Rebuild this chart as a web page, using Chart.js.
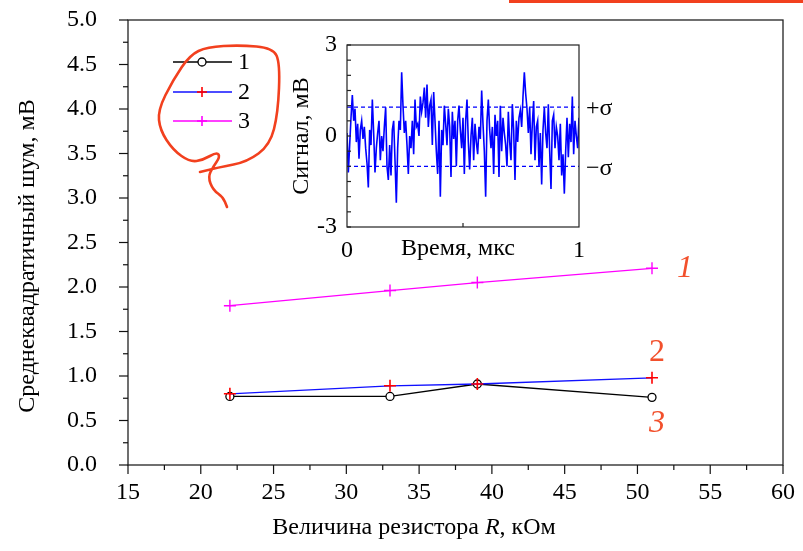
<!DOCTYPE html>
<html><head><meta charset="utf-8">
<script src="https://cdn.jsdelivr.net/npm/chart.js@4.4.1/dist/chart.umd.min.js"></script>
<style>
html,body{margin:0;padding:0;background:#fff;}
#wrap{position:relative;width:803px;height:551px;overflow:hidden;}
#main{position:absolute;left:0;top:0;}
#inset{position:absolute;left:270px;top:20px;}
</style></head><body>
<div id="wrap">
<canvas id="main" width="803" height="551"></canvas>
<canvas id="inset" width="360" height="250"></canvas>
</div>
<script>
// ---------- main chart data ----------
const resistance = [22, 33, 39, 51];            // кОм
const noiseSeries1 = [0.77, 0.77, 0.91, 0.76];  // black, circles
const noiseSeries2 = [0.80, 0.89, 0.91, 0.98];  // blue, red crosses
const noiseSeries3 = [1.79, 1.96, 2.05, 2.21];  // magenta, crosses
const seriesNames = ['1', '2', '3'];
const curveLabels = ['1', '2', '3'];
const xTicks = [15, 20, 25, 30, 35, 40, 45, 50, 55, 60];
const yTicks = [0, 0.5, 1.0, 1.5, 2.0, 2.5, 3.0, 3.5, 4.0, 4.5, 5.0];
const xTitle = ['Величина резистора ', 'R', ', кОм'];
const yTitle = 'Среднеквадратичный шум, мВ';

// ---------- inset data ----------
const signalValues = [
 0.1,-1.2,-0.3,0.6,1.35,0.5,0.9,-0.2,0.4,-0.75,
 0.2,0.5,-0.1,0.3,-0.4,-0.9,-1.7,0.2,-0.3,1.2,
 0.1,-1.2,-0.4,0.1,0.5,-0.8,0.0,-0.5,0.3,0.95,
 -1.0,-1.45,-0.3,-1.3,0.2,0.5,-0.8,-2.2,-0.4,0.5,
 0.2,2.1,1.0,0.1,0.5,-0.3,-1.25,0.0,-0.4,0.5,
 -0.6,1.2,0.3,0.4,0.0,1.3,0.8,1.1,1.6,0.6,
 1.7,0.3,1.0,1.2,-0.3,1.45,0.5,-0.5,-1.25,0.5,
 -2.0,0.2,-0.3,1.0,0.4,-0.3,0.9,0.3,-1.35,0.8,
 -0.1,0.5,-1.0,0.5,1.0,0.2,-0.4,0.6,-1.25,0.5,
 1.2,-0.2,-1.1,0.0,0.6,-0.8,0.4,-0.2,-0.6,0.3,
 -0.1,1.5,0.4,-0.5,-2.0,0.5,1.2,0.2,-0.4,0.3,
 -1.25,0.7,0.0,0.5,-1.35,1.0,-0.5,0.6,0.1,-0.3,
 -1.0,0.8,-0.2,-0.8,1.05,0.2,-1.45,0.5,-0.2,0.6,
 0.85,0.3,1.3,2.1,1.4,0.9,0.1,0.95,-0.6,0.4,
 1.15,-0.8,0.3,0.5,-1.0,0.1,-1.6,0.2,0.95,0.1,
 -0.4,1.05,-0.5,-1.75,0.5,0.7,-0.4,0.3,0.0,-0.8,
 0.4,-1.3,-0.6,-1.9,-0.5,0.6,-0.7,0.4,-0.2,1.3,
 -0.6,0.5,0.0,-0.4,0.6
];
const sigmaLevels = [0.95, -1.0];
const sigmaLabels = ['+σ', '−σ'];
const insetXTicks = [0, 1];
const insetYTicks = [-3, 0, 3];
const insetXTitle = 'Время, мкс';
const insetYTitle = 'Сигнал, мВ';

const SERIF = "'Liberation Serif','Times New Roman',serif";
Chart.defaults.font.family = SERIF;
Chart.defaults.color = '#000';

function ln(ctx, x1, y1, x2, y2) { ctx.beginPath(); ctx.moveTo(x1, y1); ctx.lineTo(x2, y2); ctx.stroke(); }
function cross(ctx, x, y, r) { ln(ctx, x - r, y, x + r, y); ln(ctx, x, y - r, x, y + r); }
function noPad(s) { s.paddingTop = 0; s.paddingBottom = 0; s.paddingLeft = 0; s.paddingRight = 0; }

// nudge layout padding so the plot area lands on the given box
function pinArea(chart, box) {
  for (let k = 0; k < 2; k++) {
    const a = chart.chartArea, p = chart.options.layout.padding;
    const dt = a.top - box.top, db = box.bottom - a.bottom, dl = a.left - box.left, dr = box.right - a.right;
    if (Math.abs(dt) < 0.5 && Math.abs(db) < 0.5 && Math.abs(dl) < 0.5 && Math.abs(dr) < 0.5) break;
    if (Math.abs(dt) > 30 || Math.abs(db) > 30 || Math.abs(dl) > 30 || Math.abs(dr) > 30) break;
    p.top -= dt; p.bottom -= db; p.left -= dl; p.right -= dr;
    chart.update();
  }
}

const mainDeco = {
  id: 'mainDeco',
  afterDraw(chart) {
    const { ctx, chartArea: a, scales: { x, y } } = chart;
    ctx.save();
    ctx.strokeStyle = '#222'; ctx.lineWidth = 1.3;
    ctx.strokeRect(a.left, a.top, a.right - a.left, a.bottom - a.top);
    ctx.lineWidth = 1.2; ctx.strokeStyle = '#111';
    for (let i = 0; i < xTicks.length; i++) {
      const px = x.getPixelForValue(xTicks[i]);
      ln(ctx, px, a.bottom, px, a.bottom + 9);
      if (i < xTicks.length - 1) {
        const pm = x.getPixelForValue((xTicks[i] + xTicks[i + 1]) / 2);
        ln(ctx, pm, a.bottom, pm, a.bottom + 5);
      }
    }
    for (let i = 0; i < yTicks.length; i++) {
      const py = y.getPixelForValue(yTicks[i]);
      ln(ctx, a.left - 9, py, a.left, py);
      if (i < yTicks.length - 1) {
        const pm = y.getPixelForValue((yTicks[i] + yTicks[i + 1]) / 2);
        ln(ctx, a.left - 5, pm, a.left, pm);
      }
    }
    ctx.fillStyle = '#000';
    ctx.textBaseline = 'middle';
    ctx.font = '24px ' + SERIF;
    const w0 = ctx.measureText(xTitle[0]).width;
    ctx.font = 'italic 24px ' + SERIF;
    const w1 = ctx.measureText(xTitle[1]).width;
    ctx.font = '24px ' + SERIF;
    const w2 = ctx.measureText(xTitle[2]).width;
    let sx = 414 - (w0 + w1 + w2) / 2;
    ctx.textAlign = 'left';
    ctx.fillText(xTitle[0], sx, 528);
    ctx.font = 'italic 24px ' + SERIF;
    ctx.fillText(xTitle[1], sx + w0, 528);
    ctx.font = '24px ' + SERIF;
    ctx.fillText(xTitle[2], sx + w0 + w1, 528);
    ctx.save();
    ctx.translate(28, 256); ctx.rotate(-Math.PI / 2);
    ctx.textAlign = 'center';
    ctx.fillText(yTitle, 0, 0);
    ctx.restore();
    const rows = [62, 92, 121];
    const lineCols = ['#000', '#1010ff', '#ff00ff'];
    ctx.lineWidth = 1.3;
    for (let i = 0; i < 3; i++) {
      const ry = rows[i];
      ctx.strokeStyle = lineCols[i];
      ln(ctx, 173, ry, 232, ry);
      if (i === 0) {
        ctx.fillStyle = '#fff'; ctx.strokeStyle = '#000';
        ctx.beginPath(); ctx.arc(202, ry, 4, 0, Math.PI * 2); ctx.fill(); ctx.stroke();
      } else {
        ctx.strokeStyle = i === 1 ? '#ff0000' : '#ff00ff';
        ctx.lineWidth = 1.6; cross(ctx, 202, ry, 5); ctx.lineWidth = 1.3;
      }
      ctx.fillStyle = '#000'; ctx.font = '24px ' + SERIF; ctx.textAlign = 'left';
      ctx.fillText(seriesNames[i], 238, ry + 1);
    }
    ctx.fillStyle = '#f2502c'; ctx.textAlign = 'center';
    ctx.font = 'italic 32px ' + SERIF; ctx.fillText(curveLabels[0], 685, 269);
    ctx.font = '32px ' + SERIF; ctx.fillText(curveLabels[1], 657, 353);
    ctx.font = 'italic 32px ' + SERIF; ctx.fillText(curveLabels[2], 657, 424);
    ctx.strokeStyle = '#f2401e'; ctx.lineWidth = 2.6; ctx.lineJoin = 'round'; ctx.lineCap = 'round';
    const p = [[200,172],[220,167],[247,162],[270,145],[278,113],[280,63],[273,48],[240,45],[207,47],[190,55],[173,80],[158,110],[160,130],[173,150],[190,162],[203,160],[217,152],[220,157],[213,167],[208,177],[213,190],[223,197],[227,207]];
    ctx.beginPath(); ctx.moveTo(p[0][0], p[0][1]);
    for (let i = 1; i < p.length - 1; i++) {
      const mx = (p[i][0] + p[i + 1][0]) / 2, my = (p[i][1] + p[i + 1][1]) / 2;
      ctx.quadraticCurveTo(p[i][0], p[i][1], mx, my);
    }
    ctx.lineTo(p[p.length - 1][0], p[p.length - 1][1]);
    ctx.stroke();
    ctx.lineWidth = 3; ctx.lineCap = 'butt';
    ln(ctx, 509, 1.5, 803, 1.5);
    ctx.restore();
  }
};

const pts = (ys) => resistance.map((x, i) => ({ x, y: ys[i] }));

const mainChart = new Chart(document.getElementById('main'), {
  type: 'line',
  data: {
    datasets: [
      { data: pts(noiseSeries1), borderColor: '#000', borderWidth: 1.3, pointStyle: 'circle', pointRadius: 4, pointBackgroundColor: '#fff', pointBorderColor: '#000', pointBorderWidth: 1.3, order: 3 },
      { data: pts(noiseSeries2), borderColor: '#1010ff', borderWidth: 1.3, pointStyle: 'cross', pointRadius: 6, pointBorderColor: '#ff0000', pointBorderWidth: 1.6, order: 1 },
      { data: pts(noiseSeries3), borderColor: '#ff00ff', borderWidth: 1.3, pointStyle: 'cross', pointRadius: 6, pointBorderColor: '#ff00ff', pointBorderWidth: 1.4, order: 2 }
    ]
  },
  options: {
    responsive: false, animation: false,
    layout: { padding: { left: 0, top: 20, right: 20, bottom: 0 } },
    plugins: { legend: { display: false }, tooltip: { enabled: false } },
    scales: {
      x: {
        type: 'linear', min: 15, max: 60,
        afterBuildTicks: s => { s.ticks = xTicks.map(v => ({ value: v })); },
        ticks: { font: { size: 24 }, color: '#000', padding: 13, maxRotation: 0, autoSkip: false, callback: v => String(v) },
        grid: { display: false, drawTicks: false }, border: { display: false },
        afterFit: s => { s.height = 86; noPad(s); }
      },
      y: {
        type: 'linear', min: 0, max: 5,
        afterBuildTicks: s => { s.ticks = yTicks.map(v => ({ value: v })); },
        ticks: { font: { size: 24 }, color: '#000', padding: 31, autoSkip: false, callback: v => Number(v).toFixed(1) },
        grid: { display: false, drawTicks: false }, border: { display: false },
        afterFit: s => { s.width = 128; noPad(s); }
      }
    }
  },
  plugins: [mainDeco]
});
pinArea(mainChart, { left: 128, top: 20, right: 783, bottom: 465 });

const insetDeco = {
  id: 'insetDeco',
  afterDraw(chart) {
    const { ctx, chartArea: a, scales: { x, y } } = chart;
    ctx.save();
    ctx.strokeStyle = '#222'; ctx.lineWidth = 1.2;
    ctx.strokeRect(a.left, a.top, a.right - a.left, a.bottom - a.top);
    for (let v = insetYTicks[0]; v <= insetYTicks[insetYTicks.length - 1]; v += 0.5) {
      const py = y.getPixelForValue(v);
      ln(ctx, a.left, py, a.left + 4, py);
    }
    const pm = x.getPixelForValue((insetXTicks[0] + insetXTicks[1]) / 2);
    ln(ctx, pm, a.bottom, pm, a.bottom - 4);
    ctx.fillStyle = '#000'; ctx.font = '24px ' + SERIF; ctx.textBaseline = 'middle';
    ctx.textAlign = 'left';
    for (let i = 0; i < sigmaLevels.length; i++) {
      ctx.fillText(sigmaLabels[i], a.right + 7, y.getPixelForValue(sigmaLevels[i]) + 2);
    }
    ctx.textAlign = 'center';
    ctx.fillText(insetXTitle, 188, 229);
    ctx.save();
    ctx.translate(32, 116); ctx.rotate(-Math.PI / 2);
    ctx.fillText(insetYTitle, 0, 0);
    ctx.restore();
    ctx.restore();
  }
};

const N = signalValues.length;
const insetChart = new Chart(document.getElementById('inset'), {
  type: 'line',
  data: {
    datasets: [
      { data: signalValues.map((v, i) => ({ x: i / (N - 1), y: v })), borderColor: '#0000ff', borderWidth: 1.6, pointRadius: 0, tension: 0 },
      ...sigmaLevels.map(s => ({ data: [{ x: 0, y: s }, { x: 1, y: s }], borderColor: '#0000ff', borderWidth: 1.3, borderDash: [4, 3], pointRadius: 0 }))
    ]
  },
  options: {
    responsive: false, animation: false,
    layout: { padding: { left: 0, top: 25, right: 51, bottom: 0 } },
    plugins: { legend: { display: false }, tooltip: { enabled: false } },
    scales: {
      x: {
        type: 'linear', min: 0, max: 1,
        afterBuildTicks: s => { s.ticks = insetXTicks.map(v => ({ value: v })); },
        ticks: { font: { size: 24 }, color: '#000', padding: 9, maxRotation: 0, autoSkip: false, callback: v => String(v) },
        grid: { display: false, drawTicks: false }, border: { display: false },
        afterFit: s => { s.height = 43; noPad(s); }
      },
      y: {
        type: 'linear', min: -3, max: 3,
        afterBuildTicks: s => { s.ticks = insetYTicks.map(v => ({ value: v })); },
        ticks: { font: { size: 24 }, color: '#000', padding: 10, autoSkip: false, callback: v => String(v) },
        grid: { display: false, drawTicks: false }, border: { display: false },
        afterFit: s => { s.width = 77; noPad(s); }
      }
    }
  },
  plugins: [insetDeco]
});
pinArea(insetChart, { left: 77, top: 25, right: 309, bottom: 207 });
</script>
</body></html>
